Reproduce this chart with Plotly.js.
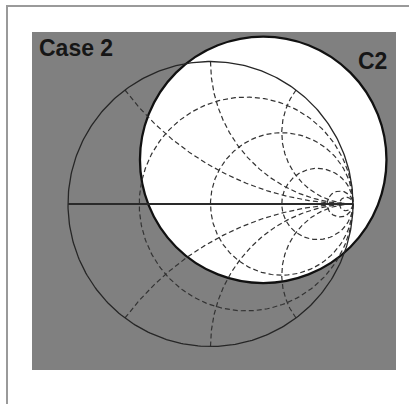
<!DOCTYPE html>
<html>
<head>
<meta charset="utf-8">
<script src="https://cdn.plot.ly/plotly-3.0.1.min.js"></script>
<style>
  html, body { margin: 0; padding: 0; background: #ffffff; width: 409px; height: 404px; overflow: hidden; }
  #frame { position: absolute; left: 6px; top: 5px; width: 500px; height: 500px;
           border-left: 2px solid #9a9a9a; border-top: 2px solid #9a9a9a; }
  #chart { position: absolute; left: 0; top: 0; width: 409px; height: 404px; }
</style>
</head>
<body>
<div id="frame"></div>
<div id="chart"></div>
<script>
// ---- Chart content ----
const chartLabel = "Case 2";
const circleLabel = "C2";

// Smith chart grid: normalized resistance circles and reactance arcs
const resistanceValues = [1/3, 1, 3, 10, 20];
const reactanceValues = [0.5, 1, 2, -0.5, -1, -2];

// Stability circle C2 (reflection-coefficient plane)
const c2Center = [0.37, 0.31];
const c2Radius = 0.865;

// ---- Geometry helpers (Smith mapping) ----
function gamma(r, x) {
  const d = (r + 1) * (r + 1) + x * x;
  return [(r * r - 1 + x * x) / d, (2 * x) / d];
}

const traces = [];
const gridLine = { color: "#333333", width: 1.2, dash: "5px,3px" };

// resistance circles
resistanceValues.forEach(r => {
  const xs = [], ys = [];
  const N = 240;
  for (let i = 0; i <= N; i++) {
    const t = -Math.PI / 2 + 0.0005 + (Math.PI - 0.001) * i / N;
    const g = gamma(r, Math.tan(t));
    xs.push(g[0]); ys.push(g[1]);
  }
  xs.push(1); ys.push(0);
  traces.push({ type: "scatter", mode: "lines", x: xs, y: ys, line: gridLine, hoverinfo: "skip", showlegend: false });
});

// reactance arcs
reactanceValues.forEach(xv => {
  const xs = [], ys = [];
  const N = 200;
  for (let i = 0; i <= N; i++) {
    const t = (Math.PI / 2 - 0.001) * i / N;
    const g = gamma(Math.tan(t), xv);
    xs.push(g[0]); ys.push(g[1]);
  }
  xs.push(1); ys.push(0);
  traces.push({ type: "scatter", mode: "lines", x: xs, y: ys, line: gridLine, hoverinfo: "skip", showlegend: false });
});

// outer unit circle (r = 0)
{
  const xs = [], ys = [];
  const N = 360;
  for (let i = 0; i <= N; i++) {
    const a = 2 * Math.PI * i / N;
    xs.push(Math.cos(a)); ys.push(Math.sin(a));
  }
  traces.push({ type: "scatter", mode: "lines", x: xs, y: ys, line: { color: "#262626", width: 1.3 }, hoverinfo: "skip", showlegend: false });
}

// real axis
traces.push({ type: "scatter", mode: "lines", x: [-1, 1], y: [0, 0], line: { color: "#2a2a2a", width: 1.8 }, hoverinfo: "skip", showlegend: false });

const layout = {
  width: 409, height: 404,
  margin: { l: 32, r: 13, t: 32, b: 34 },
  paper_bgcolor: "rgba(0,0,0,0)",
  plot_bgcolor: "#808080",
  showlegend: false,
  xaxis: { range: [-1.2526, 1.3018], visible: false, showgrid: false, zeroline: false, fixedrange: true },
  yaxis: { range: [-1.165, 1.207], visible: false, showgrid: false, zeroline: false, fixedrange: true },
  shapes: [{
    type: "circle", layer: "below", xref: "x", yref: "y",
    x0: c2Center[0] - c2Radius, x1: c2Center[0] + c2Radius,
    y0: c2Center[1] - c2Radius, y1: c2Center[1] + c2Radius,
    fillcolor: "#ffffff", line: { color: "#111111", width: 2.3 }
  }],
  annotations: [
    { text: chartLabel, xref: "paper", yref: "paper", x: 0.0135, y: 0.953, xanchor: "left", yanchor: "middle",
      showarrow: false, font: { family: "Liberation Sans, Arial, sans-serif", size: 23, color: "#161616", weight: "bold" } },
    { text: circleLabel, xref: "paper", yref: "paper", x: 0.98, y: 0.914, xanchor: "right", yanchor: "middle",
      showarrow: false, font: { family: "Liberation Sans, Arial, sans-serif", size: 23, color: "#161616", weight: "bold" } }
  ]
};

Plotly.newPlot("chart", traces, layout, { staticPlot: true, displayModeBar: false });
</script>
</body>
</html>
